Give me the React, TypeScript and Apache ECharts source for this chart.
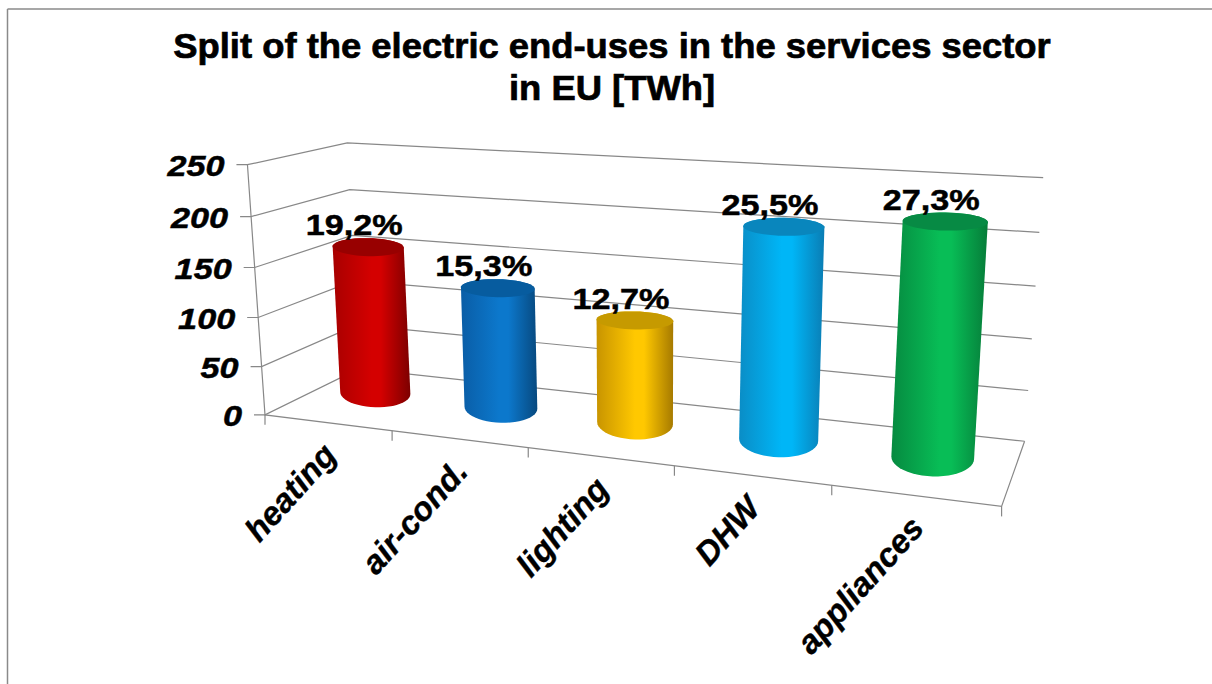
import React, { useEffect, useRef } from "react";
import * as echarts from "echarts";

const categories = ["heating", "air-cond.", "lighting", "DHW", "appliances"];
const energyTWh = [151, 120, 100, 200, 214];
const shareLabels = ["19,2%", "15,3%", "12,7%", "25,5%", "27,3%"];
const axisTicks = [0, 50, 100, 150, 200, 250];
const titleLines = [
  "Split of the electric end-uses in the services sector",
  "in EU [TWh]",
];

// side: left, centre, right of the shaded body; cap: lid colour
const sideShades = [
  ["#a80000", "#d40000", "#7c0000"],
  ["#0a5da6", "#0c78cc", "#07497f"],
  ["#c89400", "#ffc800", "#a67a00"],
  ["#0a8dc6", "#00b6f7", "#0a7db4"],
  ["#068a40", "#08bd56", "#067c39"],
];
const capShades = ["#980000", "#075c9f", "#c69a00", "#0986bd", "#078a44"];

const VALUE_MAX = 250;
const FONT = "'Liberation Sans', Arial, sans-serif";
const GRID_COLOR = "#888888";

// Known box locations (across, depth, height share -> screen) that fix the camera.
const cameraAnchors: number[][] = [
  [0, 0, 0, 266, 413], [0, 0, 0.2, 262, 366], [0, 0, 0.4, 258, 317],
  [0, 0, 0.6, 254, 267], [0, 0, 0.8, 251, 217], [0, 0, 1, 247, 165],
  [1, 1, 0, 1025, 439], [1, 1, 0.2, 1028, 389], [1, 1, 0.4, 1032, 338],
  [1, 1, 0.6, 1035, 286], [1, 1, 0.8, 1040, 233], [1, 1, 1, 1043, 179],
  [0, 1, 0, 358, 372], [0, 1, 1, 348, 142],
  [1, 0, 0, 1002, 508],
  [0.2, 0, 0, 393, 430], [0.4, 0, 0, 528, 448], [0.6, 0, 0, 674, 466], [0.8, 0, 0, 831, 487],
];

function solveCamera(anchors: number[][]): number[] {
  const n = 11;
  const ata = Array.from({ length: n }, () => new Array(n + 1).fill(0));
  const addRow = (row: number[], rhs: number) => {
    for (let i = 0; i < n; i++) {
      for (let j = 0; j < n; j++) ata[i][j] += row[i] * row[j];
      ata[i][n] += row[i] * rhs;
    }
  };
  for (const [u, d, h, X, Y] of anchors) {
    addRow([u, d, h, 1, 0, 0, 0, 0, -X * u, -X * d, -X * h], X);
    addRow([0, 0, 0, 0, u, d, h, 1, -Y * u, -Y * d, -Y * h], Y);
  }
  for (let c = 0; c < n; c++) {
    let p = c;
    for (let r = c + 1; r < n; r++) if (Math.abs(ata[r][c]) > Math.abs(ata[p][c])) p = r;
    [ata[c], ata[p]] = [ata[p], ata[c]];
    for (let r = 0; r < n; r++) {
      if (r === c) continue;
      const f = ata[r][c] / ata[c][c];
      for (let k = c; k <= n; k++) ata[r][k] -= f * ata[c][k];
    }
  }
  return ata.map((row, i) => row[n] / row[i]);
}

const cam = solveCamera(cameraAnchors);

function project(u: number, d: number, h: number): number[] {
  const w = cam[8] * u + cam[9] * d + cam[10] * h + 1;
  return [
    (cam[0] * u + cam[1] * d + cam[2] * h + cam[3]) / w,
    (cam[4] * u + cam[5] * d + cam[6] * h + cam[7]) / w,
  ];
}

function convexHull(points: number[][]): number[][] {
  const pts = points.slice().sort((a, b) => a[0] - b[0] || a[1] - b[1]);
  const cross = (o: number[], a: number[], b: number[]) =>
    (a[0] - o[0]) * (b[1] - o[1]) - (a[1] - o[1]) * (b[0] - o[0]);
  const build = (list: number[][]) => {
    const out: number[][] = [];
    for (const p of list) {
      while (out.length > 1 && cross(out[out.length - 2], out[out.length - 1], p) <= 0) out.pop();
      out.push(p);
    }
    out.pop();
    return out;
  };
  return build(pts).concat(build(pts.slice().reverse()));
}

const RADIUS_U = 0.055;
const RADIUS_D = 0.3;
const DEPTH_CENTRE = 0.51;
const CAP_LIFT = 7;
const BASE_LIFT = 4;
const CAP_HALF_HEIGHT = 9;
const TILT = 0.25;

// Outline of a cylinder's circular end at height h: a near-level ellipse sized by the camera.
function ring(u: number, h: number, isCap: boolean): number[][] {
  const c = project(u, DEPTH_CENTRE, h);
  const a = project(u - RADIUS_U, DEPTH_CENTRE, h);
  const b = project(u + RADIUS_U, DEPTH_CENTRE, h);
  const back = project(u, DEPTH_CENTRE + RADIUS_D, h);
  const front = project(u, DEPTH_CENTRE - RADIUS_D, h);
  const rx = 0.6 * ((b[0] - a[0]) / 2) + 15;
  const ry = isCap ? CAP_HALF_HEIGHT : (front[1] - back[1]) / 2;
  const slope = ((b[1] - a[1]) / (b[0] - a[0])) * TILT;
  const lift = isCap ? CAP_LIFT : BASE_LIFT;
  const pts: number[][] = [];
  for (let i = 0; i < 48; i++) {
    const t = (i / 48) * Math.PI * 2;
    const dx = rx * Math.cos(t);
    pts.push([c[0] + dx, c[1] - lift + ry * Math.sin(t) + slope * dx]);
  }
  return pts;
}

// Converts a point of the hidden grid to its share across and up the box.
function toBox(params: any, pixel: number[]) {
  const cs = params.coordSys;
  return { u: (pixel[0] - cs.x) / cs.width, h: (cs.y + cs.height - pixel[1]) / cs.height };
}

function renderFrame(params: any, api: any) {
  const { h } = toBox(params, api.coord([0, api.value(1)]));
  const a = project(0, 0, h);
  const b = project(0, 1, h);
  const c = project(1, 1, h);
  const lineStyle = { stroke: GRID_COLOR, lineWidth: 1.2, fill: "none" };
  return {
    type: "group",
    children: [
      { type: "polyline", shape: { points: [[a[0] - 11, a[1]], a, b, c] }, style: lineStyle },
      {
        type: "text",
        x: a[0] - 23,
        y: a[1] + 1,
        scaleX: 1.14,
        style: {
          text: String(api.value(1)),
          font: `italic bold 30px ${FONT}`,
          fill: "#000",
          stroke: "#000",
          lineWidth: 0.5,
          align: "right",
          verticalAlign: "middle",
        },
      },
    ],
  };
}

function renderFloorEdges(params: any, api: any) {
  const fl = project(0, 0, 0);
  const fr = project(1, 0, 0);
  const br = project(1, 1, 0);
  const top = project(0, 0, 1);
  const lineStyle = { stroke: GRID_COLOR, lineWidth: 1.2, fill: "none" };
  const children: any[] = [
    { type: "polyline", shape: { points: [top, fl, fr, br] }, style: lineStyle },
  ];
  for (let i = 0; i <= categories.length; i++) {
    const p = project(i / categories.length, 0, 0);
    children.push({
      type: "polyline",
      shape: { points: [p, [p[0], p[1] + 10]] },
      style: lineStyle,
    });
  }
  return { type: "group", children };
}

function renderCylinder(params: any, api: any) {
  const i = api.value(0);
  const { u, h } = toBox(params, api.coord([i, api.value(1)]));
  const topRing = ring(u, h, true);
  const baseRing = ring(u, 0, false);
  const [l, m, r] = sideShades[i];
  const side = new echarts.graphic.LinearGradient(0, 0, 1, 0, [
    { offset: 0, color: l },
    { offset: 0.5, color: m },
    { offset: 0.62, color: m },
    { offset: 1, color: r },
  ]);
  const topCentre = project(u, DEPTH_CENTRE, h);
  return {
    type: "group",
    children: [
      { type: "polygon", shape: { points: convexHull(topRing.concat(baseRing)) }, style: { fill: side } },
      { type: "polygon", shape: { points: topRing }, style: { fill: capShades[i] } },
      {
        type: "text",
        x: topCentre[0] - 14,
        y: topCentre[1] - 22 - CAP_LIFT,
        scaleX: 1.14,
        style: {
          text: shareLabels[i],
          font: `bold 30px ${FONT}`,
          fill: "#000",
          stroke: "#000",
          lineWidth: 0.5,
          align: "center",
          verticalAlign: "middle",
        },
      },
    ],
  };
}

function renderCategoryLabel(params: any, api: any) {
  const i = api.value(0);
  const { u } = toBox(params, api.coord([i, 0]));
  const p = project(u, 0, 0);
  return {
    type: "text",
    x: p[0] + 2,
    y: p[1] + 26,
    rotation: (48 * Math.PI) / 180,
    style: {
      text: categories[i],
      font: `italic bold 33px ${FONT}`,
      fill: "#000",
      stroke: "#000",
      lineWidth: 0.4,
      align: "right",
      verticalAlign: "middle",
    },
  };
}

export default function App() {
  const ref = useRef<HTMLDivElement>(null);

  useEffect(() => {
    if (!ref.current) return;
    const chart = echarts.init(ref.current, undefined, { renderer: "svg" });
    const titleStyle = {
      font: `bold 35px ${FONT}`,
      fill: "#000",
      stroke: "#000",
      lineWidth: 0.7,
      align: "center",
      verticalAlign: "middle",
    };
    chart.setOption({
      animation: false,
      backgroundColor: "#fff",
      grid: { left: 100, top: 100, width: 1000, height: 500 },
      xAxis: { type: "category", data: categories, show: false },
      yAxis: { type: "value", min: 0, max: VALUE_MAX, interval: 50, show: false },
      graphic: [
        { type: "line", shape: { x1: 7.5, y1: 9, x2: 1212, y2: 9 }, style: { stroke: "#8a8a8a", lineWidth: 1.5 } },
        { type: "line", shape: { x1: 7.5, y1: 9, x2: 7.5, y2: 684 }, style: { stroke: "#8a8a8a", lineWidth: 1.5 } },
        { type: "text", x: 612, y: 46, scaleX: 1.04, style: { ...titleStyle, text: titleLines[0] } },
        { type: "text", x: 612, y: 88, scaleX: 1.04, style: { ...titleStyle, text: titleLines[1] } },
      ],
      series: [
        {
          type: "custom",
          silent: true,
          renderItem: renderFrame,
          encode: { x: 0, y: 1 },
          data: axisTicks.map((t) => [0, t]),
        },
        {
          type: "custom",
          silent: true,
          renderItem: renderFloorEdges,
          encode: { x: 0, y: 1 },
          data: [[0, 0]],
        },
        {
          type: "custom",
          silent: true,
          renderItem: renderCylinder,
          encode: { x: 0, y: 1 },
          data: energyTWh.map((v, i) => [i, v]),
        },
        {
          type: "custom",
          silent: true,
          renderItem: renderCategoryLabel,
          encode: { x: 0, y: 1 },
          data: categories.map((_, i) => [i, 0]),
        },
      ],
    });
    return () => chart.dispose();
  }, []);

  return (
    <div
      ref={ref}
      style={{ position: "absolute", left: 0, top: 0, width: 1212, height: 684 }}
    />
  );
}
